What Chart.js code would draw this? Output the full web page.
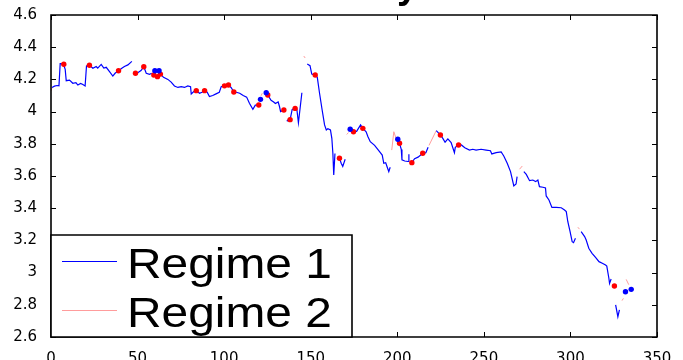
<!DOCTYPE html>
<html><head><meta charset="utf-8">
<script src="https://cdn.jsdelivr.net/npm/chart.js@4.4.0/dist/chart.umd.min.js"></script>
<style>html,body{margin:0;padding:0;background:#fff;}canvas{display:block;}</style>
</head><body>
<canvas id="c" width="683" height="360"></canvas>
<script>
const xTickValues = [0, 50, 100, 150, 200, 250, 300, 350];
const yTickValues = [2.6, 2.8, 3, 3.2, 3.4, 3.6, 3.8, 4, 4.2, 4.4, 4.6];
const seriesLabels = ['Regime 1', 'Regime 2'];
const titleFragment = 'y';

const regime1X = [
  0.6,2,3.5,4.6,5.3,6.2,7.2,8.2,8.8,10.7,12.6,14.4,15.5,17.1,18.4,19.7,20.5,22.2,24.2,26.1,27,29,30.5,31.9,33.8,35.7,37,39,40.9,42.4,44.4,46.7,null,
  48.8,50.1,52,53.6,55,56.9,58.2,null,
  63.2,65,67.5,69.4,71.3,73.3,75.2,77.1,79,80.6,81,82.5,83.9,85.8,87.2,88.7,90.2,91.5,93.4,95.3,97.2,98.3,100.2,102.5,104,105.6,107,109,111,113,114.6,116.6,118,120,null,
  125.2,127.1,128.6,129.6,131.2,132,132.6,134.5,null,
  136.2,137.7,138.1,139.3,141,142,142.9,144.9,null,
  148,149.6,150.6,152.6,153.8,155.1,156.6,158,159,159.9,161.4,162.2,162.8,163.3,164,null,
  166.6,167.6,168.5,169.9,null,
  174.7,176.5,178.8,180.1,182,183,184.4,186.9,189.3,191.3,192.2,193.3,194.2,195.1,195.9,null,
  201.3,202.3,202.7,204.3,206.2,206.7,null,
  208.4,210,212,214.7,216.5,217.8,null,
  222.5,224.9,226.3,227.6,229.2,231.1,233,233.5,235.4,237,239,241.7,243.6,245.5,248.4,251.3,253.8,254.6,257.1,260,261.5,263.5,265.4,267.3,268.6,269.2,null,
  273.1,274.5,276.4,278.3,279.9,281.2,282.1,284.1,285.6,286,287.6,289.3,291.8,294.7,296.6,297.6,298.5,299.8,301,301.8,302.9,null,
  306.2,308.2,309.1,310.6,312.5,314.5,316.5,318.4,320.3,321,322.2,322.6,323.5,null,
  326.1,327.4,328.3
];
const regime1Y = [
  4.150,4.158,4.162,4.160,4.298,4.298,4.294,4.262,4.192,4.196,4.176,4.180,4.165,4.175,4.168,4.159,4.284,4.288,4.269,4.280,4.270,4.293,4.270,4.275,4.248,4.221,4.238,4.254,4.269,4.280,4.290,4.312,null,
  4.238,4.242,4.255,4.279,4.238,4.232,4.238,null,
  4.233,4.213,4.200,4.183,4.159,4.150,4.155,4.150,4.160,4.155,4.109,4.124,4.130,4.114,4.120,4.130,4.120,4.093,4.100,4.110,4.120,4.155,4.160,4.165,4.150,4.122,4.120,4.114,4.100,4.090,4.052,4.014,4.040,4.041,null,
  4.103,4.070,4.060,4.050,4.060,4.030,4.000,4.010,null,
  3.940,3.957,3.950,4.014,4.020,4.014,3.931,4.117,null,
  4.296,4.285,4.233,4.227,4.213,4.114,4.010,3.917,3.886,3.894,3.886,3.834,3.741,3.606,3.740,null,
  3.710,3.679,3.660,3.704,null,
  3.875,3.877,3.917,3.896,3.875,3.845,3.813,3.790,3.757,3.730,3.679,3.683,3.654,3.627,3.654,null,
  3.803,3.765,3.700,3.693,3.690,3.735,null,
  3.683,3.708,3.717,3.741,3.745,3.778,null,
  3.882,3.855,3.834,3.810,3.830,3.807,3.745,3.778,3.793,3.793,3.775,3.761,3.766,3.761,3.766,3.761,3.757,3.737,3.745,3.750,3.724,3.679,3.627,3.538,3.550,3.596,null,
  3.627,3.610,3.571,3.575,3.565,3.575,3.534,3.530,3.526,3.476,3.451,3.405,3.405,3.403,3.389,3.379,3.316,3.254,3.192,3.186,3.213,null,
  3.254,3.224,3.202,3.151,3.120,3.095,3.068,3.058,3.047,3.040,2.965,2.933,2.960,null,
  2.800,2.726,2.768
];

const regime2X = [0,0.6,null,121.3,122,null,146,146.8,null,170.8,171.8,null,196.8,198,199.4,null,218.3,222.5,null,270.6,272.2,null,304.3,305.2,null,329.8,330.6,null,332.2,333.7];
const regime2Y = [4.128,4.150,null,4.098,4.114,null,4.345,4.333,null,3.858,3.870,null,3.761,3.875,3.830,null,3.790,3.882,null,3.642,3.662,null,3.282,3.270,null,2.826,2.840,null,2.958,2.925];

const redDotX = [7.4,22.2,39,48.8,53.6,59.4,61.5,63.2,83.9,88.7,100.2,102.5,105.6,120,125.2,134.5,138.1,141,152.6,166.6,174.7,180.1,201.3,208.4,214.7,224.9,235.4,325.4];
const redDotY = [4.294,4.288,4.254,4.238,4.279,4.227,4.217,4.233,4.130,4.130,4.160,4.165,4.122,4.041,4.103,4.010,3.950,4.020,4.227,3.710,3.875,3.896,3.803,3.683,3.741,3.855,3.793,2.917];

const blueDotX = [60,62.4,121,124.3,172.8,200.3,331.8,335.1];
const blueDotY = [4.254,4.254,4.076,4.117,3.890,3.828,2.881,2.896];

function pts(X, Y) {
  const out = [];
  for (let i = 0; i < X.length; i++) {
    if (X[i] === null || Y[i] === null) out.push({x: X[i - 1], y: null});
    else out.push({x: X[i], y: Y[i]});
  }
  return out;
}

const BLUE = '#0000ff', PINK = '#ff9c9c', RED = '#ff0000';

const overlayPlugin = {
  id: 'overlay',
  afterDraw(chart) {
    const ctx = chart.ctx;
    const a = chart.chartArea;
    const xs = chart.scales.x, ys = chart.scales.y;
    ctx.save();
    ctx.setLineDash([]);
    ctx.globalAlpha = 1;
    ctx.globalCompositeOperation = 'source-over';
    // inward ticks on all four sides
    ctx.strokeStyle = '#000000';
    ctx.lineWidth = 1;
    ctx.beginPath();
    xTickValues.forEach(v => {
      const px = Math.round(xs.getPixelForValue(v)) + 0.5;
      ctx.moveTo(px, a.bottom); ctx.lineTo(px, a.bottom - 5);
      ctx.moveTo(px, a.top); ctx.lineTo(px, a.top + 5);
    });
    yTickValues.forEach(v => {
      const py = Math.round(ys.getPixelForValue(v)) + 0.5;
      ctx.moveTo(a.left, py); ctx.lineTo(a.left + 5, py);
      ctx.moveTo(a.right, py); ctx.lineTo(a.right - 5, py);
    });
    ctx.stroke();
    // axes box
    ctx.lineWidth = 1.6;
    ctx.beginPath();
    ctx.rect(a.left, a.top, a.right - a.left, a.bottom - a.top);
    ctx.stroke();

    // legend box
    const bx = a.left, by = 235, bw = 352 - a.left, bh = a.bottom - by;
    ctx.fillStyle = '#ffffff';
    ctx.fillRect(bx, by, bw, bh);
    ctx.strokeStyle = '#000000';
    ctx.lineWidth = 1.6;
    ctx.beginPath();
    ctx.rect(bx, by, bw, bh);
    ctx.stroke();
    const ds = chart.data.datasets;
    const rows = [{d: ds[1], ly: 261.5, base: 278}, {d: ds[0], ly: 310.5, base: 327}];
    rows.forEach(r => {
      ctx.strokeStyle = r.d.borderColor;
      ctx.lineWidth = 1;
      ctx.beginPath(); ctx.moveTo(62, r.ly); ctx.lineTo(117, r.ly); ctx.stroke();
      ctx.save();
      ctx.translate(127, r.base);
      ctx.scale(1.14, 1);
      ctx.fillStyle = '#000';
      ctx.font = '42px "Liberation Sans", Arial, sans-serif';
      ctx.textBaseline = 'alphabetic';
      ctx.fillText(r.d.label, 0, 0);
      ctx.restore();
    });
    // clipped title fragment at the very top
    ctx.fillStyle = '#000';
    ctx.font = 'bold 38px "Liberation Sans", Arial, sans-serif';
    ctx.textBaseline = 'alphabetic';
    ctx.fillText(titleFragment, 397, -2);
    ctx.restore();
  }
};

new Chart(document.getElementById('c'), {
  type: 'scatter',
  data: {
    datasets: [
      {label: seriesLabels[1], data: pts(regime2X, regime2Y), showLine: true, borderColor: PINK, borderWidth: 1, pointRadius: 0, spanGaps: false, order: 4},
      {label: seriesLabels[0], data: pts(regime1X, regime1Y), showLine: true, borderColor: BLUE, borderWidth: 1.2, pointRadius: 0, spanGaps: false, order: 3},
      {label: 'r', data: pts(redDotX, redDotY), showLine: false, pointRadius: 2.7, pointBackgroundColor: RED, pointBorderWidth: 0, order: 2},
      {label: 'b', data: pts(blueDotX, blueDotY), showLine: false, pointRadius: 2.7, pointBackgroundColor: BLUE, pointBorderWidth: 0, order: 1}
    ]
  },
  options: {
    responsive: false,
    animation: false,
    layout: {padding: {top: 15, right: 26, left: 0, bottom: 0}},
    plugins: {legend: {display: false}, tooltip: {enabled: false}},
    scales: {
      x: {
        type: 'linear', min: 0, max: 350,
        grid: {display: false}, border: {display: false},
        afterFit(s) { s.height = 23; },
        afterBuildTicks(s) { s.ticks = xTickValues.map(v => ({value: v})); },
        ticks: {color: '#000', padding: 5, maxRotation: 0, font: {family: '"DejaVu Sans"', size: 15}, callback: v => String(v)}
      },
      y: {
        type: 'linear', min: 2.6, max: 4.6,
        grid: {display: false}, border: {display: false},
        afterFit(s) { s.width = 51; },
        afterBuildTicks(s) { s.ticks = yTickValues.map(v => ({value: v})); },
        ticks: {color: '#000', padding: 6, font: {family: '"DejaVu Sans"', size: 15}, callback: v => String(Number(v.toFixed(1)))}
      }
    }
  },
  plugins: [overlayPlugin]
});
</script>
</body></html>
